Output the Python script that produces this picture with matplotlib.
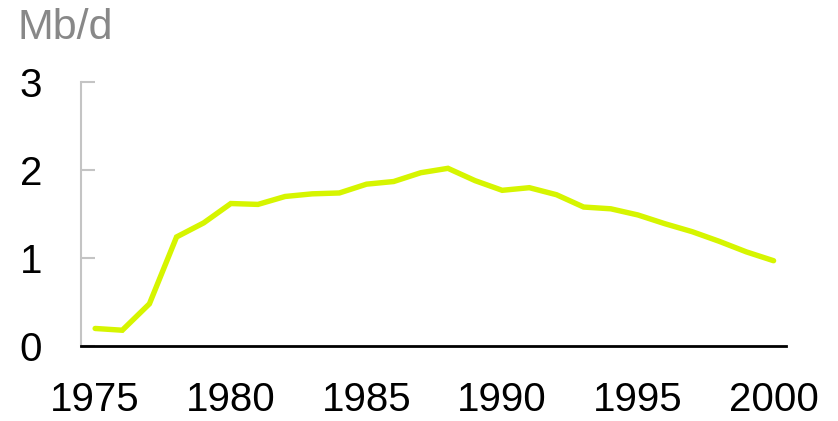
import matplotlib
matplotlib.use("Agg")
import matplotlib.pyplot as plt

plt.rcParams['font.family'] = ['Liberation Sans', 'DejaVu Sans']

years = list(range(1975, 2001))
mbd = [0.20, 0.18, 0.48, 1.24, 1.40, 1.62, 1.61, 1.70, 1.73, 1.74,
       1.84, 1.87, 1.97, 2.02, 1.88, 1.77, 1.80, 1.72, 1.58, 1.56,
       1.49, 1.39, 1.30, 1.19, 1.07, 0.97]
xticks = [1975, 1980, 1985, 1990, 1995, 2000]
yticks = [0, 1, 2, 3]

fig = plt.figure(figsize=(8.38, 4.21), dpi=100)
ax = fig.add_axes([0.0967, 0.178, 0.841, 0.627])

ax.plot(years, mbd, color='#d6f500', lw=3.9, solid_capstyle='round',
        solid_joinstyle='miter')

ax.set_xlim(1974.48, 2000.45)
ax.set_ylim(0, 3)
ax.set_xticks(xticks)
ax.set_yticks(yticks)
ax.set_xticklabels([str(y) for y in xticks])
ax.set_yticklabels([str(y) for y in yticks])

for side in ['top', 'right']:
    ax.spines[side].set_visible(False)
ax.spines['left'].set_color('#c4c4c4')
ax.spines['left'].set_linewidth(1.5)
ax.spines['bottom'].set_color('black')
ax.spines['bottom'].set_linewidth(2)

# y labels sit well left of the spine, x labels well below it
ax.tick_params(axis='y', direction='in', length=10, width=1.5,
               color='#c4c4c4', labelsize=29, pad=28)
ax.tick_params(axis='x', length=0, labelsize=29, pad=25)

fig.text(0.021, 0.908, 'Mb/d', fontsize=31, color='#888888')

plt.savefig('out.png', dpi=100)
plt.close()
